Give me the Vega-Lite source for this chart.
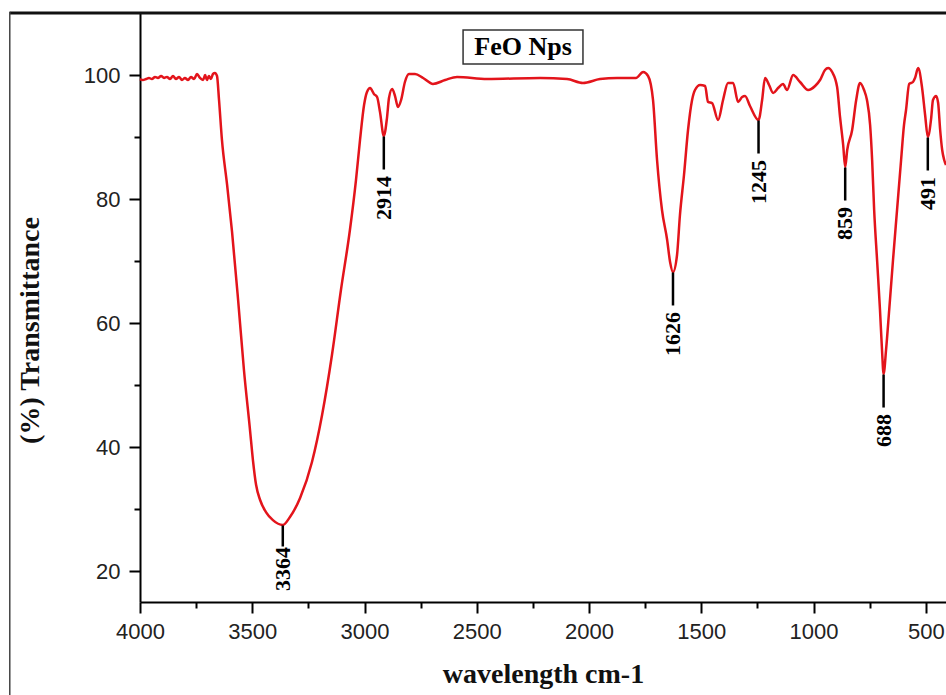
{
  "$schema": "https://vega.github.io/schema/vega-lite/v6.json",
  "width": 806,
  "height": 589,
  "autosize": {"type": "none"},
  "padding": {"left": 140, "top": 13, "right": 0, "bottom": 93},
  "background": "white",
  "config": {
    "view": {"stroke": null},
    "axis": {
      "domainColor": "#000",
      "domainWidth": 2,
      "tickColor": "#000",
      "tickWidth": 2,
      "grid": false,
      "labelFont": "Liberation Sans",
      "labelFontSize": 22,
      "labelColor": "#222",
      "titleFont": "Liberation Serif",
      "titleFontWeight": "bold",
      "titleFontSize": 28,
      "titleColor": "#111"
    }
  },
  "datasets": {
    "spectrum": [
      {"wn": 4000, "t": 99.35}, {"wn": 3987, "t": 99.19}, {"wn": 3973, "t": 99.35}, {"wn": 3960, "t": 99.52},
      {"wn": 3947, "t": 99.35}, {"wn": 3933, "t": 99.68}, {"wn": 3920, "t": 99.52}, {"wn": 3906, "t": 99.84},
      {"wn": 3893, "t": 99.52}, {"wn": 3880, "t": 99.68}, {"wn": 3866, "t": 99.35}, {"wn": 3853, "t": 99.84},
      {"wn": 3840, "t": 99.35}, {"wn": 3826, "t": 99.68}, {"wn": 3813, "t": 99.19}, {"wn": 3800, "t": 99.52},
      {"wn": 3786, "t": 99.19}, {"wn": 3773, "t": 99.68}, {"wn": 3759, "t": 99.35}, {"wn": 3746, "t": 100.16},
      {"wn": 3733, "t": 99.52}, {"wn": 3719, "t": 99.19}, {"wn": 3710, "t": 100.0}, {"wn": 3702, "t": 99.19},
      {"wn": 3693, "t": 99.84}, {"wn": 3684, "t": 99.35}, {"wn": 3675, "t": 100.16}, {"wn": 3666, "t": 100.32},
      {"wn": 3657, "t": 99.84}, {"wn": 3648, "t": 95.97}, {"wn": 3635, "t": 89.52}, {"wn": 3612, "t": 82.26},
      {"wn": 3590, "t": 74.68}, {"wn": 3563, "t": 63.71}, {"wn": 3537, "t": 52.42}, {"wn": 3510, "t": 42.74},
      {"wn": 3497, "t": 37.9}, {"wn": 3483, "t": 33.9}, {"wn": 3465, "t": 31.45}, {"wn": 3439, "t": 29.5},
      {"wn": 3408, "t": 28.2}, {"wn": 3364, "t": 27.42}, {"wn": 3332, "t": 28.71}, {"wn": 3287, "t": 31.77},
      {"wn": 3234, "t": 37.58}, {"wn": 3189, "t": 45.16}, {"wn": 3145, "t": 54.84}, {"wn": 3105, "t": 65.32},
      {"wn": 3065, "t": 75.0}, {"wn": 3038, "t": 83.06}, {"wn": 3020, "t": 89.52}, {"wn": 3002, "t": 95.16},
      {"wn": 2989, "t": 97.26}, {"wn": 2975, "t": 97.9}, {"wn": 2958, "t": 96.94}, {"wn": 2944, "t": 96.45},
      {"wn": 2931, "t": 94.03}, {"wn": 2914, "t": 90.16}, {"wn": 2900, "t": 93.06}, {"wn": 2891, "t": 96.29},
      {"wn": 2877, "t": 97.74}, {"wn": 2864, "t": 96.61}, {"wn": 2851, "t": 94.84}, {"wn": 2837, "t": 95.97},
      {"wn": 2820, "t": 98.87}, {"wn": 2802, "t": 100.16}, {"wn": 2775, "t": 100.16}, {"wn": 2739, "t": 99.52},
      {"wn": 2695, "t": 98.55}, {"wn": 2641, "t": 99.19}, {"wn": 2588, "t": 99.68}, {"wn": 2454, "t": 99.35},
      {"wn": 2218, "t": 99.52}, {"wn": 2098, "t": 99.35}, {"wn": 2027, "t": 98.71}, {"wn": 1951, "t": 99.35},
      {"wn": 1875, "t": 99.52}, {"wn": 1791, "t": 99.52}, {"wn": 1759, "t": 100.48}, {"wn": 1737, "t": 99.84},
      {"wn": 1715, "t": 95.97}, {"wn": 1697, "t": 86.29}, {"wn": 1675, "t": 78.23}, {"wn": 1652, "t": 73.39},
      {"wn": 1639, "t": 69.84}, {"wn": 1626, "t": 68.23}, {"wn": 1608, "t": 70.97}, {"wn": 1595, "t": 77.42},
      {"wn": 1577, "t": 83.87}, {"wn": 1559, "t": 91.13}, {"wn": 1541, "t": 95.97}, {"wn": 1528, "t": 97.58},
      {"wn": 1505, "t": 98.39}, {"wn": 1483, "t": 98.23}, {"wn": 1470, "t": 95.65}, {"wn": 1452, "t": 95.48},
      {"wn": 1425, "t": 92.74}, {"wn": 1403, "t": 95.97}, {"wn": 1381, "t": 98.71}, {"wn": 1358, "t": 98.71},
      {"wn": 1336, "t": 95.65}, {"wn": 1318, "t": 96.45}, {"wn": 1305, "t": 96.61}, {"wn": 1283, "t": 95.0},
      {"wn": 1245, "t": 92.74}, {"wn": 1229, "t": 95.97}, {"wn": 1216, "t": 99.52}, {"wn": 1198, "t": 98.39},
      {"wn": 1180, "t": 97.1}, {"wn": 1158, "t": 97.9}, {"wn": 1136, "t": 98.55}, {"wn": 1118, "t": 97.58},
      {"wn": 1091, "t": 100.0}, {"wn": 1060, "t": 98.87}, {"wn": 1024, "t": 97.58}, {"wn": 993, "t": 98.23},
      {"wn": 971, "t": 99.19}, {"wn": 949, "t": 100.81}, {"wn": 935, "t": 101.13}, {"wn": 917, "t": 100.48},
      {"wn": 895, "t": 98.06}, {"wn": 882, "t": 93.23}, {"wn": 868, "t": 88.71}, {"wn": 859, "t": 85.16},
      {"wn": 850, "t": 87.9}, {"wn": 828, "t": 91.13}, {"wn": 810, "t": 95.97}, {"wn": 793, "t": 98.71},
      {"wn": 775, "t": 97.58}, {"wn": 762, "t": 95.97}, {"wn": 748, "t": 91.94}, {"wn": 739, "t": 86.29},
      {"wn": 730, "t": 78.23}, {"wn": 717, "t": 70.16}, {"wn": 704, "t": 62.1}, {"wn": 695, "t": 55.65},
      {"wn": 688, "t": 51.77}, {"wn": 677, "t": 55.65}, {"wn": 663, "t": 62.1}, {"wn": 646, "t": 70.16},
      {"wn": 628, "t": 78.23}, {"wn": 610, "t": 86.29}, {"wn": 597, "t": 91.94}, {"wn": 588, "t": 94.35},
      {"wn": 574, "t": 98.55}, {"wn": 557, "t": 98.87}, {"wn": 548, "t": 99.52}, {"wn": 534, "t": 101.13},
      {"wn": 517, "t": 98.06}, {"wn": 503, "t": 93.55}, {"wn": 491, "t": 90.0}, {"wn": 476, "t": 93.06},
      {"wn": 468, "t": 95.97}, {"wn": 454, "t": 96.61}, {"wn": 445, "t": 95.48}, {"wn": 436, "t": 91.13},
      {"wn": 427, "t": 87.9}, {"wn": 418, "t": 86.29}, {"wn": 410, "t": 85.48}
    ],
    "peaks": [
      {"wn": 3364, "t": 27.42, "label": "3364"},
      {"wn": 2914, "t": 90.16, "label": "2914"},
      {"wn": 1626, "t": 68.23, "label": "1626"},
      {"wn": 1245, "t": 92.74, "label": "1245"},
      {"wn": 859, "t": 85.16, "label": "859"},
      {"wn": 688, "t": 51.77, "label": "688"},
      {"wn": 491, "t": 90.0, "label": "491"}
    ]
  },
  "layer": [
    {
      "data": {"name": "spectrum"},
      "mark": {"type": "line", "color": "#e3141b", "strokeWidth": 2.5, "interpolate": "monotone"},
      "encoding": {
        "x": {
          "field": "wn", "type": "quantitative",
          "scale": {"domain": [4000, 410], "nice": false, "zero": false},
          "axis": {
            "values": [4000, 3750, 3500, 3250, 3000, 2750, 2500, 2250, 2000, 1750, 1500, 1250, 1000, 750, 500],
            "format": "d",
            "labelExpr": "datum.value % 500 === 0 ? datum.label : ''",
            "labelOverlap": false,
            "labelFlush": false,
            "tickSize": {"condition": {"test": "datum.value % 500 === 0", "value": 11}, "value": 6},
            "labelPadding": 8,
            "title": "wavelength cm-1",
            "titlePadding": 18
          }
        },
        "y": {
          "field": "t", "type": "quantitative",
          "scale": {"domain": [15, 110], "nice": false, "zero": false},
          "axis": {
            "values": [20, 30, 40, 50, 60, 70, 80, 90, 100],
            "format": "d",
            "labelExpr": "datum.value % 20 === 0 ? datum.label : ''",
            "labelOverlap": false,
            "labelFlush": false,
            "tickSize": {"condition": {"test": "datum.value % 20 === 0", "value": 11}, "value": 6},
            "labelPadding": 9,
            "title": "(%) Transmittance",
            "titleAngle": 270,
            "titleAlign": "center",
            "titleBaseline": "middle",
            "titleX": -110,
            "titleY": 317
          }
        }
      }
    },
    {
      "data": {"name": "peaks"},
      "transform": [{"filter": "datum.label !== '3364'"}],
      "mark": {"type": "tick", "orient": "vertical", "color": "#000", "opacity": 1, "size": 33, "thickness": 2.5, "yOffset": 17},
      "encoding": {
        "x": {"field": "wn", "type": "quantitative", "scale": {"domain": [4000, 410], "nice": false, "zero": false}},
        "y": {"field": "t", "type": "quantitative", "scale": {"domain": [15, 110], "nice": false, "zero": false}}
      }
    },
    {
      "data": {"name": "peaks"},
      "transform": [{"filter": "datum.label !== '3364'"}],
      "mark": {"type": "text", "angle": 270, "align": "right", "baseline": "middle", "font": "Liberation Serif", "fontWeight": "bold", "fontSize": 22, "color": "#000", "yOffset": 40},
      "encoding": {
        "x": {"field": "wn", "type": "quantitative", "scale": {"domain": [4000, 410], "nice": false, "zero": false}},
        "y": {"field": "t", "type": "quantitative", "scale": {"domain": [15, 110], "nice": false, "zero": false}},
        "text": {"field": "label"}
      }
    },
    {
      "data": {"name": "peaks"},
      "transform": [{"filter": "datum.label === '3364'"}],
      "mark": {"type": "tick", "orient": "vertical", "color": "#000", "opacity": 1, "size": 21, "thickness": 2.5, "yOffset": 11},
      "encoding": {
        "x": {"field": "wn", "type": "quantitative", "scale": {"domain": [4000, 410], "nice": false, "zero": false}},
        "y": {"field": "t", "type": "quantitative", "scale": {"domain": [15, 110], "nice": false, "zero": false}}
      }
    },
    {
      "data": {"name": "peaks"},
      "transform": [{"filter": "datum.label === '3364'"}],
      "mark": {"type": "text", "angle": 270, "align": "right", "baseline": "middle", "font": "Liberation Serif", "fontWeight": "bold", "fontSize": 22, "color": "#000", "yOffset": 22},
      "encoding": {
        "x": {"field": "wn", "type": "quantitative", "scale": {"domain": [4000, 410], "nice": false, "zero": false}},
        "y": {"field": "t", "type": "quantitative", "scale": {"domain": [15, 110], "nice": false, "zero": false}},
        "text": {"field": "label"}
      }
    },
    {
      "data": {"values": [{}]},
      "mark": {"type": "rect", "fill": "white", "stroke": "#333", "strokeWidth": 1.5},
      "encoding": {
        "x": {"datum": 2561, "type": "quantitative", "scale": {"domain": [4000, 410], "nice": false, "zero": false}},
        "x2": {"datum": 2027},
        "y": {"datum": 107.26, "type": "quantitative", "scale": {"domain": [15, 110], "nice": false, "zero": false}},
        "y2": {"datum": 101.77}
      }
    },
    {
      "data": {"values": [{}]},
      "mark": {"type": "text", "text": "FeO Nps", "font": "Liberation Serif", "fontWeight": "bold", "fontSize": 26, "align": "center", "baseline": "middle", "color": "#000"},
      "encoding": {
        "x": {"datum": 2294, "type": "quantitative", "scale": {"domain": [4000, 410], "nice": false, "zero": false}},
        "y": {"datum": 104.5, "type": "quantitative", "scale": {"domain": [15, 110], "nice": false, "zero": false}}
      }
    },
    {
      "data": {"values": [{}]},
      "mark": {"type": "rule", "color": "#111", "strokeWidth": 3, "clip": false},
      "encoding": {
        "x": {"datum": 4580, "type": "quantitative", "scale": {"domain": [4000, 410], "nice": false, "zero": false}},
        "x2": {"datum": 405},
        "y": {"datum": 110, "type": "quantitative", "scale": {"domain": [15, 110], "nice": false, "zero": false}}
      }
    },
    {
      "data": {"values": [{}]},
      "mark": {"type": "rule", "color": "#444", "strokeWidth": 1.5, "clip": false},
      "encoding": {
        "x": {"datum": 4580, "type": "quantitative", "scale": {"domain": [4000, 410], "nice": false, "zero": false}},
        "y": {"datum": 110.2, "type": "quantitative", "scale": {"domain": [15, 110], "nice": false, "zero": false}},
        "y2": {"datum": 0}
      }
    }
  ]
}
